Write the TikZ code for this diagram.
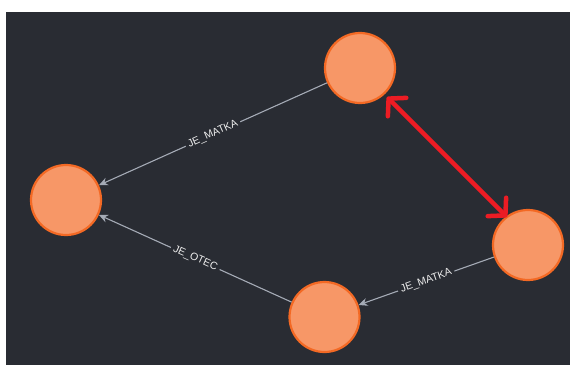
\documentclass[tikz,border=0pt]{standalone}
\usepackage{fontspec}
\setmainfont{Liberation Sans}
\usetikzlibrary{arrows.meta}
\definecolor{bg}{HTML}{292C33}
\definecolor{nodefill}{HTML}{F79767}
\definecolor{nodeline}{HTML}{F36924}
\definecolor{edgegray}{HTML}{A5ABB6}
\definecolor{labeltext}{HTML}{EEEEEE}
\definecolor{redmark}{HTML}{EC1C24}
\tikzset{
  person/.style={circle, draw=nodeline, fill=nodefill, line width=2.2pt, minimum size=70pt, inner sep=0pt},
  rel/.style={draw=edgegray, line width=1.1pt, -{Stealth[length=9pt,width=8pt]}},
  rellabel/.style={midway, sloped, fill=bg, text=labeltext, inner sep=3pt, font=\fontsize{10.5}{11}\selectfont},
  marker/.style={draw=redmark, line width=4.5pt, line cap=round,
     {Straight Barb[length=12pt,width=26pt,line width=4.5pt,round]}-{Straight Barb[length=12pt,width=26pt,line width=4.5pt,round]}}
}
\begin{document}
\begin{tikzpicture}[x=1pt,y=-1pt]
\useasboundingbox (0,0) rectangle (571,365);
\fill[white] (0,0) rectangle (571,365);
\fill[bg] (6,12) rectangle (570,365);
\node[person] (top) at (360,68) {};
\node[person] (left) at (66,200) {};
\node[person] (bottom) at (324.5,317) {};
\node[person] (right) at (528,245) {};
\draw[rel] (top) -- node[rellabel] {JE\_MATKA} (left);
\draw[rel] (bottom) -- node[rellabel] {JE\_OTEC} (left);
\draw[rel] (right) -- node[rellabel] {JE\_MATKA} (bottom);
\coordinate (ma) at (387,97);
\coordinate (mb) at (507,217);
\draw[marker] (ma) -- (mb);
\end{tikzpicture}
\end{document}
